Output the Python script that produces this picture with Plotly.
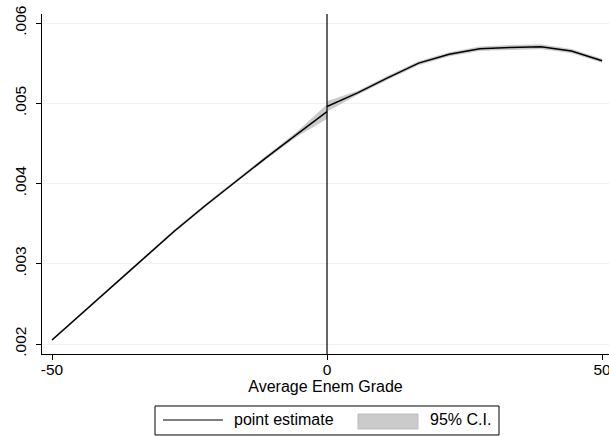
import plotly.graph_objects as go

# ---- data ----
x_left = [-50, -44.44, -38.89, -33.33, -27.78, -22.22, -16.67, -11.11, -5.56, 0]
est_left = [0.00205, 0.002389, 0.002728, 0.003067, 0.003405, 0.00372, 0.004025, 0.00432, 0.00461, 0.004895]
lo_left = [0.00204, 0.002379, 0.002718, 0.003055, 0.003391, 0.003705, 0.00401, 0.004302, 0.004585, 0.00481]
hi_left = [0.00206, 0.002399, 0.002738, 0.003079, 0.003419, 0.003735, 0.00404, 0.004338, 0.004635, 0.00498]

x_right = [0, 5.56, 11.11, 16.67, 22.22, 27.78, 33.33, 38.89, 44.44, 50]
est_right = [0.00496, 0.00513, 0.00532, 0.0055, 0.00561, 0.00568, 0.005695, 0.005705, 0.00565, 0.00553]
lo_right = [0.0049, 0.00511, 0.0053, 0.00548, 0.00559, 0.005658, 0.00567, 0.00568, 0.00563, 0.00551]
hi_right = [0.00502, 0.00515, 0.00534, 0.00552, 0.00563, 0.005702, 0.00572, 0.00573, 0.00567, 0.00555]

x_ticks = [-50, 0, 50]
x_ticktext = ["-50", "0", "50"]
y_ticks = [0.002, 0.003, 0.004, 0.005, 0.006]
y_ticktext = [".002", ".003", ".004", ".005", ".006"]

x_title = "Average Enem Grade"
legend_labels = ["point estimate", "95% C.I."]

FONT = "Liberation Sans, Arial, sans-serif"
CI_FILL = "#cbcbcb"
CI_LINE = "#bdbdbd"

fig = go.Figure()

for xs, lo, hi in [(x_left, lo_left, hi_left), (x_right, lo_right, hi_right)]:
    fig.add_trace(go.Scatter(
        x=xs + xs[::-1], y=hi + lo[::-1], mode="lines", fill="toself",
        fillcolor=CI_FILL, line=dict(color=CI_LINE, width=0.6),
        showlegend=False, hoverinfo="skip"))

for xs, ys in [(x_left, est_left), (x_right, est_right)]:
    fig.add_trace(go.Scatter(
        x=xs, y=ys, mode="lines", line=dict(color="black", width=1.5),
        showlegend=False))

# vertical line at the cutoff
fig.add_shape(type="line", xref="x", yref="paper", x0=0, x1=0, y0=0, y1=1,
              line=dict(color="black", width=1.2))

# ---- custom Stata-style legend ----
fig.add_shape(type="rect", xref="paper", yref="paper",
              x0=0.1993, x1=0.806, y0=-0.2382, y1=-0.1529,
              line=dict(color="black", width=1), fillcolor="white")
fig.add_shape(type="line", xref="paper", yref="paper",
              x0=0.2134, x1=0.3192, y0=-0.1941, y1=-0.1941,
              line=dict(color="black", width=1.2))
fig.add_shape(type="rect", xref="paper", yref="paper",
              x0=0.5573, x1=0.6631, y0=-0.2206, y1=-0.1765,
              line=dict(color=CI_LINE, width=1), fillcolor=CI_FILL)
fig.add_annotation(xref="paper", yref="paper", x=0.3351, y=-0.1941,
                   text=legend_labels[0], showarrow=False, xanchor="left", yanchor="middle",
                   font=dict(family=FONT, size=16, color="black"))
fig.add_annotation(xref="paper", yref="paper", x=0.6808, y=-0.1941,
                   text=legend_labels[1], showarrow=False, xanchor="left", yanchor="middle",
                   font=dict(family=FONT, size=16, color="black"))

fig.update_layout(
    width=609, height=436,
    margin=dict(l=42, r=0, t=14, b=82, autoexpand=False),
    paper_bgcolor="white", plot_bgcolor="white",
    font=dict(family=FONT, size=15.5, color="black"),
    showlegend=False,
    xaxis=dict(
        range=[-51.82, 51.27], tickvals=x_ticks, ticktext=x_ticktext,
        automargin=False, ticklabeloverflow="allow", ticklabelstandoff=-4,
        showgrid=False, zeroline=False, showline=True, linecolor="black", linewidth=1,
        ticks="outside", ticklen=5, tickcolor="black", tickwidth=1,
        tickfont=dict(family=FONT, size=15.5, color="black"),
        title=dict(text=x_title, font=dict(family=FONT, size=16, color="black"), standoff=2),
    ),
    yaxis=dict(
        range=[0.0018754, 0.0061121], tickvals=y_ticks, ticktext=y_ticktext,
        tickangle=-90, automargin=False, ticklabeloverflow="allow", ticklabelstandoff=4,
        showgrid=True, gridcolor="#eaf2f3", gridwidth=1,
        zeroline=False, showline=True, linecolor="black", linewidth=1,
        ticks="outside", ticklen=5, tickcolor="black", tickwidth=1,
        tickfont=dict(family=FONT, size=15.5, color="black"),
    ),
)

fig.write_html(
    "out.html",
    config={"displayModeBar": False},
    post_script="document.documentElement.style.margin='0';document.body.style.margin='0';"
                "document.body.style.overflow='hidden';",
)
